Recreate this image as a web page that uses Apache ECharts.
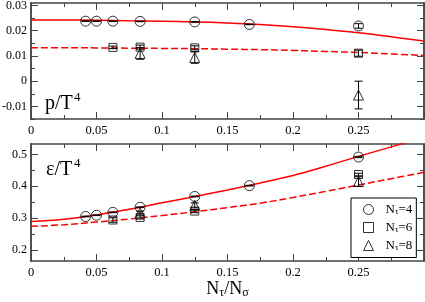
<!DOCTYPE html>
<html><head><meta charset="utf-8">
<script src="https://cdn.jsdelivr.net/npm/echarts@6/dist/echarts.min.js"></script>
<style>html,body{margin:0;padding:0;background:#fff}#c{width:425px;height:302px}</style>
</head><body><div id="c"></div>
<script>
// ---- tick labels ----
const xTicks = [0, 0.05, 0.1, 0.15, 0.2, 0.25];
const pTicks = [-0.01, 0, 0.01, 0.02, 0.03];
const pMinor = [-0.015, -0.01, -0.005, 0, 0.005, 0.01, 0.015, 0.02, 0.025, 0.03];
const eTicks = [0.2, 0.3, 0.4, 0.5];
const eMinor = [0.2, 0.25, 0.3, 0.35, 0.4, 0.45, 0.5];

// ---- data: N_tau = 4 ----
const x4 = [0.0417, 0.05, 0.0625, 0.0833, 0.125, 0.1667, 0.25];
const p4 = [0.0238, 0.0238, 0.0238, 0.0237, 0.0235, 0.0225, 0.0219];
const p4err = [0.0001, 0.0001, 0.0001, 0.0001, 0.0001, 0.0001, 0.0009];
const e4 = [0.305, 0.309, 0.318, 0.334, 0.368, 0.402, 0.492];
const e4err = [0.001, 0.001, 0.001, 0.001, 0.001, 0.001, 0.002];
// ---- N_tau = 6 ----
const x6 = [0.0625, 0.0833, 0.125, 0.25];
const p6 = [0.0134, 0.0135, 0.0132, 0.0111];
const p6err = [0.0005, 0.0008, 0.0008, 0.0012];
const e6 = [0.294, 0.302, 0.322, 0.437];
const e6err = [0.007, 0.005, 0.005, 0.004];
// ---- N_tau = 8 ----
const x8 = [0.0833, 0.125, 0.25];
const p8 = [0.0110, 0.0094, -0.0055];
const p8err = [0.0023, 0.0023, 0.0055];
const e8 = [0.316, 0.340, 0.415];
const e8err = [0.006, 0.008, 0.015];
// ---- fit curves ----
const fitX = [0, 0.025, 0.05, 0.075, 0.1, 0.125, 0.15, 0.175, 0.2, 0.225, 0.25, 0.275, 0.3];
const pFitSolid  = [0.0243, 0.0243, 0.0242, 0.0240, 0.0238, 0.0235, 0.0231, 0.0225, 0.0216, 0.0205, 0.0192, 0.0176, 0.0159];
const pFitDashed = [0.0133, 0.0133, 0.0132, 0.0131, 0.0130, 0.0129, 0.0127, 0.0125, 0.0122, 0.0118, 0.0114, 0.0108, 0.0102];
const eFitSolid  = [0.289, 0.2965, 0.310, 0.328, 0.348, 0.368, 0.3885, 0.4105, 0.434, 0.463, 0.494, 0.524, 0.554];
const eFitDashed = [0.274, 0.279, 0.2875, 0.297, 0.308, 0.320, 0.333, 0.347, 0.365, 0.384, 0.404, 0.424, 0.444];

const names = ['Nτ=4', 'Nτ=6', 'Nτ=8'];
const FONT = 'Liberation Serif';
const AX = '#444';

const zip2 = (a, b) => a.map((v, i) => [v, b[i]]);
const zip3 = (a, b, c) => a.map((v, i) => [v, b[i], c[i]]);

function xAxisDef(gi, pos) {
  const bottom = pos === 'bottom';
  return {
    type: 'value', gridIndex: gi, position: pos, min: 0, max: 0.3, interval: 0.05,
    axisLine: { show: true, onZero: false, lineStyle: { color: AX, width: 1.5 } },
    axisTick: { show: true, inside: true, length: 7, lineStyle: { color: AX, width: 1 } },
    minorTick: { show: true, splitNumber: 2, length: 4, lineStyle: { color: AX, width: 1 } },
    splitLine: { show: false },
    axisLabel: { show: bottom, customValues: xTicks, margin: 5, color: '#000', fontFamily: FONT, fontSize: 12.5 },
    name: (bottom && gi === 1) ? '{n|N}{s|τ}{n|/N}{s|σ}' : '',
    nameLocation: 'middle', nameGap: 15,
    nameTextStyle: {
      rich: {
        n: { fontFamily: FONT, fontSize: 18, lineHeight: 20, color: '#000' },
        s: { fontFamily: FONT, fontSize: 12, lineHeight: 10, color: '#000', verticalAlign: 'bottom' }
      }
    }
  };
}
function yAxisDef(gi, pos, mn, mx, ticks, len, labels) {
  return {
    type: 'value', gridIndex: gi, position: pos, min: mn, max: mx,
    axisLine: { show: true, onZero: false, lineStyle: { color: AX, width: 1.5 } },
    axisTick: { show: true, inside: true, length: len, customValues: ticks, lineStyle: { color: AX, width: 1 } },
    splitLine: { show: false },
    axisLabel: { show: labels, customValues: ticks, margin: 4, color: '#000', fontFamily: FONT, fontSize: 12 }
  };
}

function errRender(params, api) {
  const x = api.value(0), y = api.value(1), e = api.value(2);
  const t = api.coord([x, y + e]), b = api.coord([x, y - e]);
  const hw = 4, st = { stroke: '#000', lineWidth: 1 };
  return {
    type: 'group', children: [
      { type: 'line', shape: { x1: t[0], y1: t[1], x2: b[0], y2: b[1] }, style: st },
      { type: 'line', shape: { x1: t[0] - hw, y1: t[1], x2: t[0] + hw, y2: t[1] }, style: st },
      { type: 'line', shape: { x1: b[0] - hw, y1: b[1], x2: b[0] + hw, y2: b[1] }, style: st }
    ]
  };
}

const markStyle = { color: 'rgba(255,255,255,0)', borderColor: '#000', borderWidth: 1 };
const symbols = ['circle', 'rect', 'triangle'];
const sizes = [10, 8, 10];
const topSets = [[x4, p4, p4err], [x6, p6, p6err], [x8, p8, p8err]];
const botSets = [[x4, e4, e4err], [x6, e6, e6err], [x8, e8, e8err]];

const series = [];
function fitLine(xi, yi, ys, dashed) {
  return {
    type: 'line', xAxisIndex: xi, yAxisIndex: yi, data: zip2(fitX, ys), smooth: 0.4,
    showSymbol: false, silent: true, z: 1,
    lineStyle: { color: '#ff0000', width: 1.5, type: dashed ? [7, 3] : 'solid' }
  };
}
series.push(fitLine(0, 0, pFitSolid, false), fitLine(0, 0, pFitDashed, true));
series.push(fitLine(2, 4, eFitSolid, false), fitLine(2, 4, eFitDashed, true));
[[topSets, 0, 0], [botSets, 2, 4]].forEach(([sets, xi, yi]) => {
  sets.forEach((s, k) => {
    series.push({
      name: names[k], type: 'scatter', xAxisIndex: xi, yAxisIndex: yi,
      symbol: symbols[k], symbolSize: sizes[k], itemStyle: markStyle, z: 3,
      data: zip2(s[0], s[1])
    });
  });
  sets.forEach((s, k) => {
    series.push({
      name: names[k], type: 'custom', xAxisIndex: xi, yAxisIndex: yi, z: 4,
      renderItem: errRender, data: zip3(s[0], s[1], s[2]), silent: true
    });
  });
});

const chart = echarts.init(document.getElementById('c'), null, { renderer: 'canvas' });
chart.setOption({
  animation: false,
  backgroundColor: '#fff',
  grid: [
    { left: 31, top: 3, width: 393, height: 116, outerBoundsMode: 'none', containLabel: false },
    { left: 31, top: 144, width: 393, height: 117, outerBoundsMode: 'none', containLabel: false }
  ],
  xAxis: [xAxisDef(0, 'bottom'), xAxisDef(0, 'top'), xAxisDef(1, 'bottom'), xAxisDef(1, 'top')],
  yAxis: [
    yAxisDef(0, 'left', -0.015, 0.031, pTicks, 7, true),
    yAxisDef(0, 'left', -0.015, 0.031, pMinor, 4, false),
    yAxisDef(0, 'right', -0.015, 0.031, pTicks, 7, false),
    yAxisDef(0, 'right', -0.015, 0.031, pMinor, 4, false),
    yAxisDef(1, 'left', 0.165, 0.533, eTicks, 7, true),
    yAxisDef(1, 'left', 0.165, 0.533, eMinor, 4, false),
    yAxisDef(1, 'right', 0.165, 0.533, eTicks, 7, false),
    yAxisDef(1, 'right', 0.165, 0.533, eMinor, 4, false)
  ],
  legend: {
    orient: 'vertical', left: 351, top: 198, itemWidth: 10, itemHeight: 10, itemGap: 4.5,
    padding: [5, 4, 5, 12], borderColor: '#000', borderWidth: 1, backgroundColor: '#fff',
    selectedMode: false, z: 10,
    data: [{ name: names[0], icon: 'circle' }, { name: names[1], icon: 'rect' }, { name: names[2], icon: 'triangle' }],
    itemStyle: { color: 'rgba(255,255,255,0)', borderColor: '#000', borderWidth: 1 },
    formatter: (nm) => '{a|N}{s|τ}{n|' + nm.slice(2) + '}',
    textStyle: {
      rich: {
        a: { fontFamily: FONT, fontSize: 13, lineHeight: 14, color: '#000', padding: [0, 0, 0, 7] },
        n: { fontFamily: FONT, fontSize: 13, lineHeight: 14, color: '#000' },
        s: { fontFamily: FONT, fontSize: 9, lineHeight: 8, color: '#000', verticalAlign: 'bottom' }
      }
    }
  },
  graphic: [
    { type: 'text', x: 45, y: 104, style: { text: 'p/T', font: '20px "Liberation Serif"', fill: '#000', verticalAlign: 'middle' } },
    { type: 'text', x: 74, y: 98, style: { text: '4', font: '13px "Liberation Serif"', fill: '#000', verticalAlign: 'middle' } },
    { type: 'text', x: 46, y: 170, style: { text: 'ε/T', font: '20px "Liberation Serif"', fill: '#000', verticalAlign: 'middle' } },
    { type: 'text', x: 74, y: 164, style: { text: '4', font: '13px "Liberation Serif"', fill: '#000', verticalAlign: 'middle' } }
  ],
  series: series
});
</script></body></html>
